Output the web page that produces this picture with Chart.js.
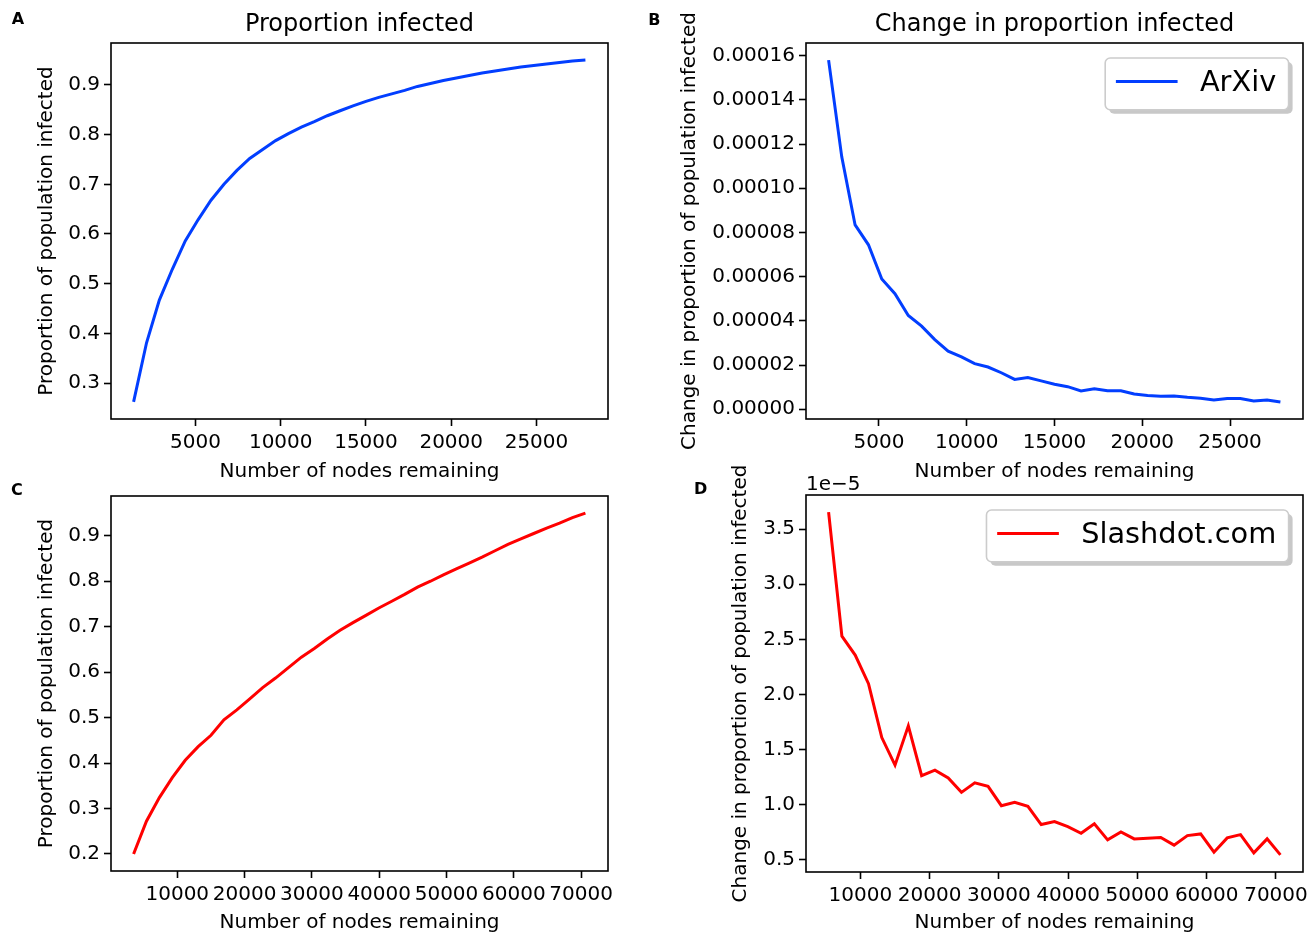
<!DOCTYPE html>
<html>
<head>
<meta charset="utf-8">
<title>Proportion infected</title>
<script src="https://cdn.jsdelivr.net/npm/chart.js@4.4.1/dist/chart.umd.min.js"></script>
<style>
  body { margin: 0; background: #fff; }
  #fig { position: relative; width: 1316px; height: 933px; }
  #fig canvas { position: absolute; left: 0; top: 0; }
</style>
</head>
<body>
<div id="fig">
  <canvas id="panelA" width="1316" height="933"></canvas>
  <canvas id="panelB" width="1316" height="933"></canvas>
  <canvas id="panelC" width="1316" height="933"></canvas>
  <canvas id="panelD" width="1316" height="933"></canvas>
</div>
<script>
// Datos
const arxivNodes = [1370, 2130, 2880, 3640, 4400, 5160, 5910, 6670, 7430, 8180, 8940, 9700,
  10450, 11210, 11970, 12730, 13480, 14240, 15000, 15750, 16510, 17270, 18020, 18780,
  19540, 20300, 21050, 21810, 22570, 23320, 24080, 24840, 25590, 26350, 27110, 27870];
const arxivInfected = [0.262, 0.381, 0.467, 0.529, 0.586, 0.629, 0.668, 0.700, 0.728, 0.752, 0.770, 0.788,
  0.802, 0.815, 0.826, 0.838, 0.848, 0.858, 0.867, 0.875, 0.882, 0.889, 0.897, 0.903,
  0.909, 0.914, 0.919, 0.924, 0.928, 0.932, 0.936, 0.939, 0.942, 0.945, 0.948, 0.950];
// cambio por paso (empieza en el segundo punto)
const arxivChange = [0.0001580, 0.0001142, 0.0000834, 0.0000744, 0.0000589, 0.0000523, 0.0000424,
  0.0000376, 0.0000315, 0.0000263, 0.0000237, 0.0000206, 0.0000191, 0.0000165, 0.0000135,
  0.0000143, 0.0000128, 0.0000113, 0.0000102, 0.0000083, 0.0000093, 0.0000084, 0.0000083,
  0.0000069, 0.0000062, 0.0000059, 0.0000060, 0.0000054, 0.0000050, 0.0000042, 0.0000048,
  0.0000048, 0.0000037, 0.0000042, 0.0000033];

const slashdotNodes = [3510, 5420, 7340, 9260, 11180, 13100, 15010, 16930, 18850, 20770, 22690, 24600,
  26520, 28440, 30360, 32280, 34190, 36110, 38030, 39950, 41870, 43780, 45700, 47620,
  49540, 51460, 53370, 55290, 57210, 59130, 61050, 62960, 64880, 66800, 68720, 70640];
const slashdotInfected = [0.200, 0.272, 0.324, 0.368, 0.406, 0.436, 0.461, 0.495, 0.517, 0.541, 0.566, 0.587,
  0.610, 0.633, 0.652, 0.673, 0.692, 0.709, 0.725, 0.741, 0.756, 0.771, 0.787, 0.800,
  0.814, 0.827, 0.840, 0.853, 0.867, 0.881, 0.893, 0.905, 0.917, 0.928, 0.940, 0.950];
// en unidades de 1e-5
const slashdotChange = [3.654, 2.529, 2.357, 2.098, 1.609, 1.359, 1.715, 1.263, 1.314, 1.242, 1.112, 1.199,
  1.166, 0.991, 1.022, 0.985, 0.820, 0.847, 0.801, 0.741, 0.826, 0.681, 0.753, 0.690,
  0.696, 0.702, 0.633, 0.720, 0.735, 0.569, 0.699, 0.729, 0.563, 0.690, 0.545];

// Ticks
const ticksArxivX = [5000, 10000, 15000, 20000, 25000];
const ticksSlashdotX = [10000, 20000, 30000, 40000, 50000, 60000, 70000];
const ticksInfectedA = [0.3, 0.4, 0.5, 0.6, 0.7, 0.8, 0.9];
const ticksInfectedC = [0.2, 0.3, 0.4, 0.5, 0.6, 0.7, 0.8, 0.9];
const ticksChangeB = [0, 0.00002, 0.00004, 0.00006, 0.00008, 0.0001, 0.00012, 0.00014, 0.00016];
const ticksChangeD = [0.5, 1.0, 1.5, 2.0, 2.5, 3.0, 3.5];

const FONT = 'DejaVu Sans';
const BLUE = '#023eff';
const RED = '#ff0000';

Chart.defaults.font.family = FONT;
Chart.defaults.color = '#000';

// margen de 5% como matplotlib
function padRange(values) {
  const lo = Math.min(...values), hi = Math.max(...values);
  const m = (hi - lo) * 0.05;
  return { min: lo - m, max: hi + m };
}

// marco, letra del panel, leyenda y texto 1e-5
const extras = {
  id: 'extras',
  afterDraw(chart, args, opts) {
    const ctx = chart.ctx;
    const a = chart.chartArea;
    ctx.save();
    ctx.strokeStyle = '#000';
    ctx.lineWidth = 1.6;
    ctx.strokeRect(a.left, a.top, a.right - a.left, a.bottom - a.top);

    ctx.fillStyle = '#000';
    ctx.textBaseline = 'alphabetic';
    ctx.textAlign = 'left';
    ctx.font = 'bold 16px ' + FONT;
    ctx.fillText(opts.letter, opts.letterX, opts.letterY);

    if (opts.offsetText) {
      ctx.font = '20px ' + FONT;
      ctx.fillText(opts.offsetText, a.left, a.top - 5);
    }

    if (opts.legend) {
      ctx.font = '28.8px ' + FONT;
      const tw = ctx.measureText(opts.legend).width;
      const w = 94.7 + tw + 12.4, h = 51.7;
      const x = a.right - 14.4 - w, y = a.top + 15;
      ctx.fillStyle = '#c8c8c8';
      ctx.beginPath();
      ctx.roundRect(x + 4, y + 4, w, h, 5);
      ctx.fill();
      ctx.fillStyle = '#fff';
      ctx.strokeStyle = '#cccccc';
      ctx.lineWidth = 1.6;
      ctx.beginPath();
      ctx.roundRect(x, y, w, h, 5);
      ctx.fill();
      ctx.stroke();
      ctx.strokeStyle = opts.legendColor;
      ctx.lineWidth = 3;
      ctx.beginPath();
      ctx.moveTo(x + 10.7, y + 23.4);
      ctx.lineTo(x + 72.4, y + 23.4);
      ctx.stroke();
      ctx.fillStyle = '#000';
      ctx.fillText(opts.legend, x + 94.7, y + 33.4);
    }
    ctx.restore();
  }
};

function makePanel(id, p) {
  const xr = padRange(p.x);
  const yr = padRange(p.y);
  const tickFont = { size: 20, family: FONT };
  return new Chart(document.getElementById(id), {
    type: 'line',
    data: {
      datasets: [{
        label: p.legend || '',
        data: p.x.map((v, i) => ({ x: v, y: p.y[i] })),
        borderColor: p.color,
        borderWidth: 3,
        pointRadius: 0,
        tension: 0,
        fill: false
      }]
    },
    options: {
      responsive: false,
      animation: false,
      events: [],
      layout: { padding: p.pad },
      scales: {
        x: {
          type: 'linear',
          min: xr.min,
          max: xr.max,
          afterFit: s => { s.height = p.xHeight; },
          afterBuildTicks: s => { s.ticks = p.xTicks.map(v => ({ value: v })); },
          ticks: {
            autoSkip: false, maxRotation: 0, minRotation: 0, padding: 5,
            color: '#000', font: tickFont,
            callback: v => String(v)
          },
          grid: { drawOnChartArea: false, drawTicks: true, tickLength: 7, tickColor: '#000', tickWidth: 1.6 },
          border: { display: false },
          title: {
            display: true, text: 'Number of nodes remaining', color: '#000',
            font: { size: 20, family: FONT }, padding: { top: 0, bottom: p.xTitlePad }
          }
        },
        y: {
          type: 'linear',
          min: yr.min,
          max: yr.max,
          afterFit: s => { s.width = p.yWidth; },
          afterBuildTicks: s => { s.ticks = p.yTicks.map(v => ({ value: v })); },
          ticks: {
            autoSkip: false, padding: 4, color: '#000', font: tickFont,
            callback: v => v.toFixed(p.yDigits)
          },
          grid: { drawOnChartArea: false, drawTicks: true, tickLength: 7, tickColor: '#000', tickWidth: 1.6 },
          border: { display: false },
          title: {
            display: true, text: p.yTitle, color: '#000',
            font: { size: 20, family: FONT }, padding: { top: p.yTitlePad, bottom: 0 }
          }
        }
      },
      plugins: {
        legend: { display: false },
        tooltip: { enabled: false },
        title: {
          display: !!p.title,
          text: p.title || '',
          fullSize: false,
          color: '#000',
          font: { size: 24, family: FONT, weight: 'normal' },
          padding: { top: 10, bottom: 4.2 }
        },
        extras: {
          letter: p.letter, letterX: p.letterX, letterY: p.letterY,
          legend: p.legend, legendColor: p.color, offsetText: p.offsetText
        }
      }
    },
    plugins: [extras]
  });
}

makePanel('panelA', {
  x: arxivNodes, y: arxivInfected, color: BLUE,
  xTicks: ticksArxivX, yTicks: ticksInfectedA, yDigits: 1,
  title: 'Proportion infected', yTitle: 'Proportion of population infected',
  pad: { left: 0, top: 0, right: 708, bottom: 449 },
  yWidth: 111, xHeight: 65, yTitlePad: 35, xTitlePad: 0.5,
  letter: 'A', letterX: 11.7, letterY: 24.3
});

makePanel('panelB', {
  x: arxivNodes.slice(1), y: arxivChange, color: BLUE,
  xTicks: ticksArxivX, yTicks: ticksChangeB, yDigits: 5,
  title: 'Change in proportion infected', yTitle: 'Change in proportion of population infected',
  pad: { left: 660, top: 0, right: 13, bottom: 449 },
  yWidth: 146, xHeight: 65, yTitlePad: 17.5, xTitlePad: 0.5,
  letter: 'B', letterX: 648.3, letterY: 24.5, legend: 'ArXiv'
});

makePanel('panelC', {
  x: slashdotNodes, y: slashdotInfected, color: RED,
  xTicks: ticksSlashdotX, yTicks: ticksInfectedC, yDigits: 1,
  yTitle: 'Proportion of population infected',
  pad: { left: 0, top: 496, right: 708, bottom: 0 },
  yWidth: 111, xHeight: 62, yTitlePad: 35, xTitlePad: -1.5,
  letter: 'C', letterX: 11, letterY: 494.5
});

makePanel('panelD', {
  x: slashdotNodes.slice(1), y: slashdotChange, color: RED,
  xTicks: ticksSlashdotX, yTicks: ticksChangeD, yDigits: 1,
  yTitle: 'Change in proportion of population infected',
  pad: { left: 660, top: 495, right: 13, bottom: 0 },
  yWidth: 146, xHeight: 61, yTitlePad: 69, xTitlePad: -2,
  letter: 'D', letterX: 694, letterY: 494, legend: 'Slashdot.com', offsetText: '1e\u22125'
});
</script>
</body>
</html>
